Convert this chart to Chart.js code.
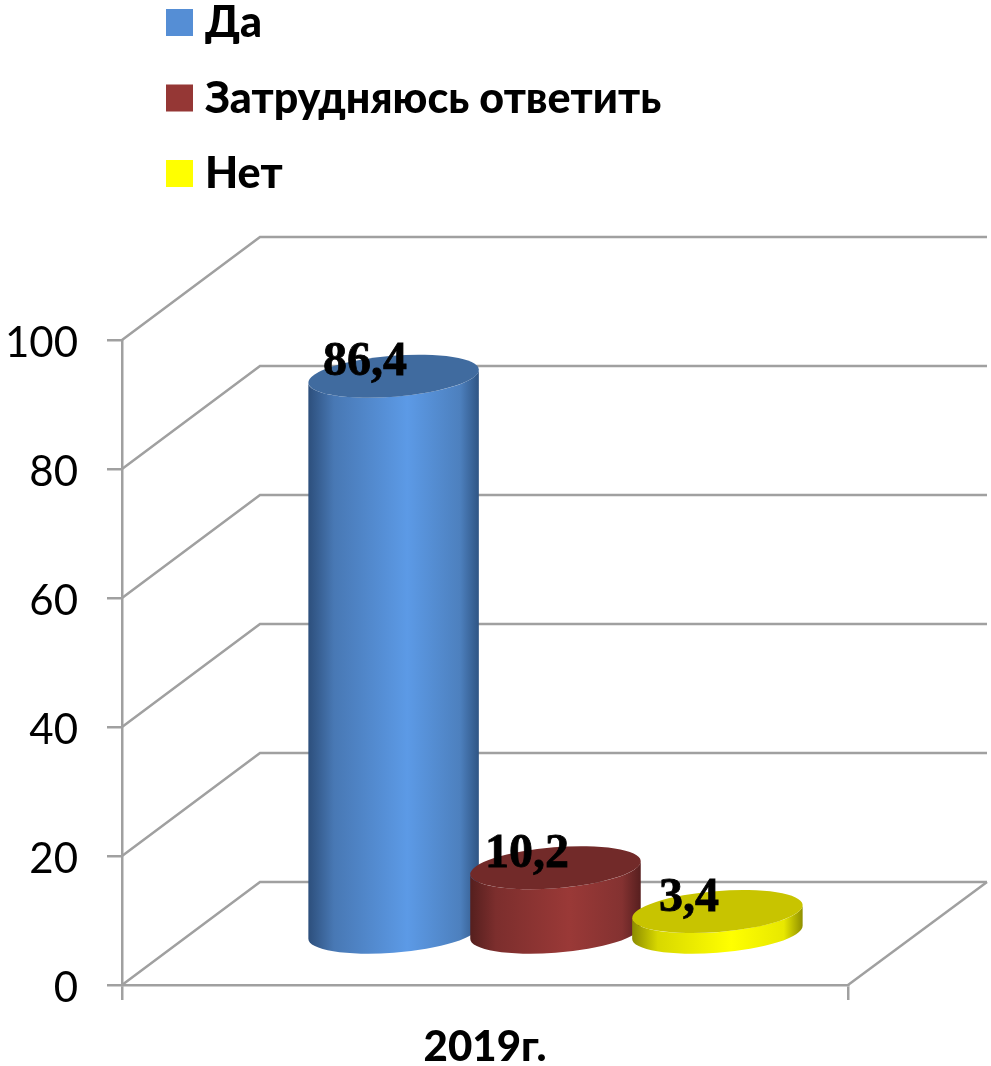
<!DOCTYPE html>
<html>
<head>
<meta charset="utf-8">
<title>2019г.</title>
<script src="https://cdn.jsdelivr.net/npm/chart.js@4/dist/chart.umd.min.js"></script>
<style>
  html, body { margin: 0; padding: 0; background: #fff; }
  #chartBox { width: 991px; height: 1066px; }
</style>
</head>
<body>
<div id="chartBox"><canvas id="surveyChart" width="991" height="1066"></canvas></div>
<script>
const categories = ["2019г."];
const seriesNames = ["Да", "Затрудняюсь ответить", "Нет"];
const yesValues = [86.4];
const unsureValues = [10.2];
const noValues = [3.4];
const yTicks = [0, 20, 40, 60, 80, 100];

// legend colour, then the shading of the cylinder: edge, shoulder, bright, shoulder, edge, lid
const legendColors = ["#558ed5", "#953735", "#ffff00"];
const shades = [
  ["#2d4f7c", "#4878b4", "#5c9ae6", "#4d80be", "#2f5584", "#406b9f"],
  ["#551f1e", "#7c2e2d", "#9a3937", "#843231", "#571f1f", "#722a29"],
  ["#8c8c00", "#d8d800", "#ffff00", "#e8e800", "#8f8f00", "#c8c400"],
];

const DEPTH_X = 138;
const DEPTH_Y = 103;
const LINE_COLOR = "#a0a0a0";
const TILT = -0.08;
const LID_B = 20.5;

const walls = {
  id: "walls",
  beforeDatasetsDraw(chart) {
    const { ctx, scales } = chart;
    const left = scales.x.left;
    const right = scales.x.right;
    ctx.save();
    ctx.strokeStyle = LINE_COLOR;
    ctx.lineWidth = 2.5;
    yTicks.forEach((t) => {
      const y = scales.y.getPixelForValue(t);
      ctx.beginPath();
      ctx.moveTo(left, y);
      ctx.lineTo(left + DEPTH_X, y - DEPTH_Y);
      ctx.lineTo(right + DEPTH_X + 1, y - DEPTH_Y);
      ctx.stroke();
    });
    const y0 = scales.y.getPixelForValue(0);
    ctx.beginPath();
    ctx.moveTo(right, y0);
    ctx.lineTo(right + DEPTH_X + 1, y0 - DEPTH_Y);
    ctx.stroke();
    ctx.restore();
  },
};

function drawCylinder(ctx, bar, colors) {
  // cylinders stand in the middle of the floor depth
  const cx = bar.x + DEPTH_X / 2 + 1.5;
  const top = bar.y - DEPTH_Y / 2;
  const bottom = bar.base - DEPTH_Y / 2;
  const a = bar.width / 2 + 0.5;
  const t0 = Math.atan2(-LID_B * Math.sin(TILT), a * Math.cos(TILT));
  const hw = a * Math.cos(TILT);

  const g = ctx.createLinearGradient(cx - hw, 0, cx + hw, 0);
  g.addColorStop(0, colors[0]);
  g.addColorStop(0.15, colors[1]);
  g.addColorStop(0.58, colors[2]);
  g.addColorStop(0.89, colors[3]);
  g.addColorStop(1, colors[4]);

  ctx.beginPath();
  ctx.ellipse(cx, bottom, a, LID_B, TILT, t0, t0 + Math.PI);
  ctx.ellipse(cx, top, a, LID_B, TILT, t0 + Math.PI, t0, true);
  ctx.closePath();
  ctx.fillStyle = g;
  ctx.fill();

  ctx.beginPath();
  ctx.ellipse(cx, top, a, LID_B, TILT, 0, Math.PI * 2);
  ctx.fillStyle = colors[5];
  ctx.fill();
}

const cylinders = {
  id: "cylinders",
  beforeDatasetsDraw(chart) {
    const { ctx } = chart;
    ctx.save();
    chart.data.datasets.forEach((ds, i) => {
      const bar = chart.getDatasetMeta(i).data[0];
      drawCylinder(ctx, bar, shades[i]);
    });
    ctx.restore();
    return false; // the plain bars are replaced by the cylinders
  },
  afterDraw(chart) {
    const { ctx } = chart;
    ctx.save();
    ctx.fillStyle = "#000";
    ctx.strokeStyle = "#000";
    ctx.lineWidth = 0.8;
    ctx.font = "bold 48px 'Liberation Serif'";
    ctx.textAlign = "center";
    ctx.textBaseline = "alphabetic";
    chart.data.datasets.forEach((ds, i) => {
      const bar = chart.getDatasetMeta(i).data[0];
      const label = String(ds.data[0]).replace(".", ",");
      const x = bar.x + DEPTH_X / 2 - 27;
      ctx.fillText(label, x, bar.y - DEPTH_Y / 2 - 1);
      ctx.strokeText(label, x, bar.y - DEPTH_Y / 2 - 1);
    });
    ctx.restore();
  },
};

const sideLegend = {
  id: "sideLegend",
  afterDraw(chart) {
    const { ctx } = chart;
    ctx.save();
    ctx.font = "900 43px Lato";
    ctx.textAlign = "left";
    ctx.textBaseline = "alphabetic";
    chart.data.datasets.forEach((ds, i) => {
      const rowY = 9 + i * 75.5;
      ctx.fillStyle = ds.backgroundColor;
      ctx.fillRect(166, rowY, 27, 27);
      ctx.fillStyle = "#000";
      ctx.fillText(ds.label, 205, rowY + 28);
    });
    ctx.restore();
  },
};

new Chart(document.getElementById("surveyChart").getContext("2d"), {
  type: "bar",
  data: {
    labels: categories,
    datasets: [
      { label: seriesNames[0], data: yesValues, backgroundColor: legendColors[0] },
      { label: seriesNames[1], data: unsureValues, backgroundColor: legendColors[1] },
      { label: seriesNames[2], data: noValues, backgroundColor: legendColors[2] },
    ],
  },
  plugins: [walls, cylinders, sideLegend],
  options: {
    responsive: false,
    animation: false,
    categoryPercentage: 0.669,
    barPercentage: 1.05,
    layout: { padding: { top: 340, right: 143, left: 0, bottom: 0 } },
    plugins: {
      legend: { display: false },
      tooltip: { enabled: false },
    },
    scales: {
      x: {
        afterFit(scale) {
          scale.height = 81;
          scale.paddingLeft = 0;
          scale.paddingRight = 0;
        },
        border: { color: LINE_COLOR, width: 2.5 },
        grid: {
          offset: true,
          drawOnChartArea: false,
          color: LINE_COLOR,
          lineWidth: 2.5,
          tickLength: 15,
        },
        ticks: {
          padding: 22,
          color: "#000",
          font: { family: "Lato", size: 42, weight: "900" },
        },
      },
      y: {
        min: 0,
        max: 100,
        afterFit(scale) {
          scale.width = 122;
          scale.paddingTop = 0;
          scale.paddingBottom = 0;
        },
        afterBuildTicks(scale) {
          scale.ticks = yTicks.map((v) => ({ value: v }));
        },
        border: { color: LINE_COLOR, width: 2.5 },
        grid: {
          drawOnChartArea: false,
          color: LINE_COLOR,
          lineWidth: 2.5,
          tickLength: 15,
        },
        ticks: {
          padding: 29,
          labelOffset: 3,
          color: "#000",
          font: { family: "Lato", size: 42 },
        },
      },
    },
  },
});
</script>
</body>
</html>
